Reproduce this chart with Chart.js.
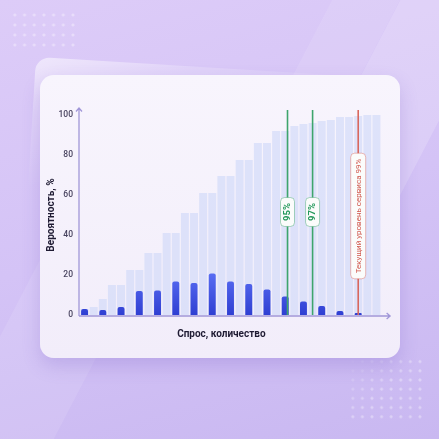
<!DOCTYPE html>
<html>
<head>
<meta charset="utf-8">
<script src="https://cdn.jsdelivr.net/npm/chart.js@4.4.1/dist/chart.umd.min.js"></script>
<style>
  html, body { margin: 0; padding: 0; }
  body {
    width: 439px; height: 439px; overflow: hidden; position: relative;
    background: linear-gradient(165deg, #ddccf8 0%, #d4c3f6 50%, #c9b8f1 100%);
    font-family: Roboto, sans-serif;
  }
  .band { position: absolute; transform: rotate(27.5deg); transform-origin: 50% 50%; }
  .dots { position: absolute; }
  #back {
    position: absolute; left: 36px; top: 57px; width: 360px; height: 200px;
    border-radius: 14px; transform: rotate(3.5deg); transform-origin: 0 0;
    background: linear-gradient(160deg, rgba(255,255,255,0.55) 0%, rgba(255,255,255,0.2) 18%, rgba(255,255,255,0) 40%);
  }
  #card {
    position: absolute; left: 40px; top: 75px; width: 360px; height: 283px;
    border-radius: 14px;
    background: linear-gradient(180deg, #f8f5fd 0%, #f2edfa 100%);
    box-shadow: 0 8px 18px rgba(110, 80, 190, 0.22);
  }
  #chart { position: absolute; left: 40px; top: 75px; }
</style>
</head>
<body>
<div class="band" style="left:310px;top:-100px;width:60px;height:300px;background:rgba(255,255,255,0.10)"></div>
<div class="band" style="left:380px;top:-100px;width:90px;height:300px;background:rgba(255,255,255,0.18)"></div>
<div class="band" style="left:-27px;top:250px;width:95px;height:300px;background:rgba(255,255,255,0.10)"></div>
<div class="dots" style="left:10px;top:10px;width:68px;height:40px;
  background:radial-gradient(circle, rgba(255,255,255,0.35) 1.2px, transparent 1.8px);background-size:9.7px 10px;"></div>
<div class="dots" style="left:348px;top:357px;width:77px;height:64px;
  background:radial-gradient(circle, rgba(255,255,255,0.35) 1.2px, transparent 1.8px);background-size:9.6px 9.2px;
  -webkit-mask-image:linear-gradient(135deg, transparent 0%, black 45%);"></div>
<div id="back"></div>
<div id="card"></div>
<canvas id="chart" width="360" height="283"></canvas>
<script>
// demand quantity categories (no tick labels on the x axis)
const demandQty = [1, 2, 3, 4, 5, 6, 7, 8, 9, 10, 11, 12, 13, 14, 15, 16, 17,
  18, 19, 20, 21, 22, 23, 24, 25, 26, 27, 28, 29, 30, 31, 32, 33];

// cumulative probability, %, one value per category
const cumulativeProb = [3, 4, 8, 15, 15, 22.5, 22.5, 31, 31, 41, 41, 51, 51, 61, 61, 69.5,
  69.5, 77.5, 77.5, 86, 86, 92, 92, 94.5, 95.5, 96, 97, 97.5, 99, 99, 99.5, 100, 100];

// probability of demand, %, on every other category
const demandProb = [3, 2.5, 4, 12, 12.3, 16.7, 16, 20.7, 16.7, 15.5, 12.7, 9.3, 6.8, 4.5, 2, 1];

// service level markers (position on the demand axis)
const markerPos = [22.25, 25, 30];
const markerText = ['95%', '97%', 'Текущий уровень сервиса 99%'];
const markerKind = ['target', 'target', 'current'];

const yTicks = [0, 20, 40, 60, 80, 100];

const demandSeries = demandQty.map((_, i) =>
  i % 2 === 0 && i / 2 < demandProb.length ? demandProb[i / 2] : null);

const markerStyle = {
  target: { line: '#3ea56c', box: 'rgba(62,165,108,0.45)', text: '#22985a', font: 'bold 9.5px Roboto', level: 51.5 },
  current: { line: '#d9685e', box: 'rgba(217,104,94,0.45)', text: '#d0584e', font: '8px Roboto', level: 49.5 }
};

const overlay = {
  id: 'overlay',
  afterDatasetsDraw(chart) {
    const { ctx, chartArea: a, scales: { x, y } } = chart;
    const step = x.getPixelForValue(1) - x.getPixelForValue(0);
    ctx.save();

    // axes with arrows
    const x0 = a.left - 1, y0 = a.bottom + 1;
    const yTop = y.getPixelForValue(103.5), xEnd = a.right + step;
    ctx.strokeStyle = '#a197d8';
    ctx.lineWidth = 1.3;
    ctx.beginPath();
    ctx.moveTo(x0, y0); ctx.lineTo(x0, yTop);
    ctx.moveTo(x0, y0); ctx.lineTo(xEnd, y0);
    ctx.moveTo(x0 - 3, yTop + 3.5); ctx.lineTo(x0, yTop); ctx.lineTo(x0 + 3, yTop + 3.5);
    ctx.moveTo(xEnd - 3.5, y0 - 3); ctx.lineTo(xEnd, y0); ctx.lineTo(xEnd - 3.5, y0 + 3);
    ctx.stroke();

    // service level lines and their labels
    markerPos.forEach((pos, i) => {
      const st = markerStyle[markerKind[i]];
      const px = x.getPixelForValue(pos);
      ctx.strokeStyle = st.line;
      ctx.lineWidth = 1.6;
      ctx.beginPath();
      ctx.moveTo(px, y.getPixelForValue(102.5));
      ctx.lineTo(px, a.bottom);
      ctx.stroke();

      ctx.font = st.font;
      const tw = ctx.measureText(markerText[i]).width;
      const bw = markerKind[i] === 'target' ? 14 : 15;
      const bh = tw + 11;
      const cy = y.getPixelForValue(st.level);
      ctx.fillStyle = '#fbfcfb';
      ctx.strokeStyle = st.box;
      ctx.lineWidth = 1;
      ctx.beginPath();
      ctx.roundRect(px - bw / 2, cy - bh / 2, bw, bh, 4);
      ctx.fill();
      ctx.stroke();

      ctx.save();
      ctx.translate(px, cy);
      ctx.rotate(-Math.PI / 2);
      ctx.fillStyle = st.text;
      ctx.textAlign = 'center';
      ctx.textBaseline = 'middle';
      ctx.fillText(markerText[i], 0, 0.5);
      ctx.restore();
    });

    // x axis title, centred under the demand bars
    ctx.fillStyle = '#1f1b33';
    ctx.font = 'bold 10px Roboto';
    ctx.textAlign = 'center';
    ctx.textBaseline = 'middle';
    ctx.fillText('Спрос, количество', x.getPixelForValue(15), a.bottom + 19);
    ctx.restore();
  }
};

new Chart(document.getElementById('chart'), {
  type: 'bar',
  data: {
    labels: demandQty,
    datasets: [
      {
        label: 'Вероятность спроса',
        data: demandSeries,
        grouped: false,
        order: 0,
        barPercentage: 0.76,
        categoryPercentage: 1,
        borderRadius: { topLeft: 2, topRight: 2 },
        borderSkipped: 'bottom',
        backgroundColor: (c) => {
          const { chart } = c;
          const a = chart.chartArea;
          if (!a) return '#4456e6';
          const g = chart.ctx.createLinearGradient(0, a.bottom, 0, chart.scales.y.getPixelForValue(22));
          g.addColorStop(0, '#2f3fd2');
          g.addColorStop(1, '#5b6ff4');
          return g;
        }
      },
      {
        label: 'Накопленная вероятность',
        data: cumulativeProb,
        grouped: false,
        order: 1,
        barPercentage: 0.87,
        categoryPercentage: 1,
        backgroundColor: 'rgba(205,215,248,0.6)'
      }
    ]
  },
  options: {
    responsive: false,
    devicePixelRatio: 1,
    animation: false,
    layout: { padding: { top: 40, right: 19, left: 0, bottom: 0 } },
    plugins: { legend: { display: false }, tooltip: { enabled: false } },
    scales: {
      x: {
        ticks: { display: false },
        grid: { display: false, drawTicks: false },
        border: { display: false },
        afterFit: (s) => { s.height = 43; }
      },
      y: {
        min: 0,
        max: 100,
        afterBuildTicks: (s) => { s.ticks = yTicks.map(v => ({ value: v })); },
        ticks: { color: '#47425e', font: { family: 'Roboto', size: 8.5, weight: '500' }, padding: 7 },
        grid: { display: false, drawTicks: false },
        border: { display: false },
        title: {
          display: true,
          text: 'Вероятность, %',
          color: '#1f1b33',
          font: { family: 'Roboto', size: 10, weight: 'bold' },
          padding: { top: 5, bottom: 0 }
        },
        afterFit: (s) => { s.width = 40; }
      }
    }
  },
  plugins: [overlay]
});
</script>
</body>
</html>
